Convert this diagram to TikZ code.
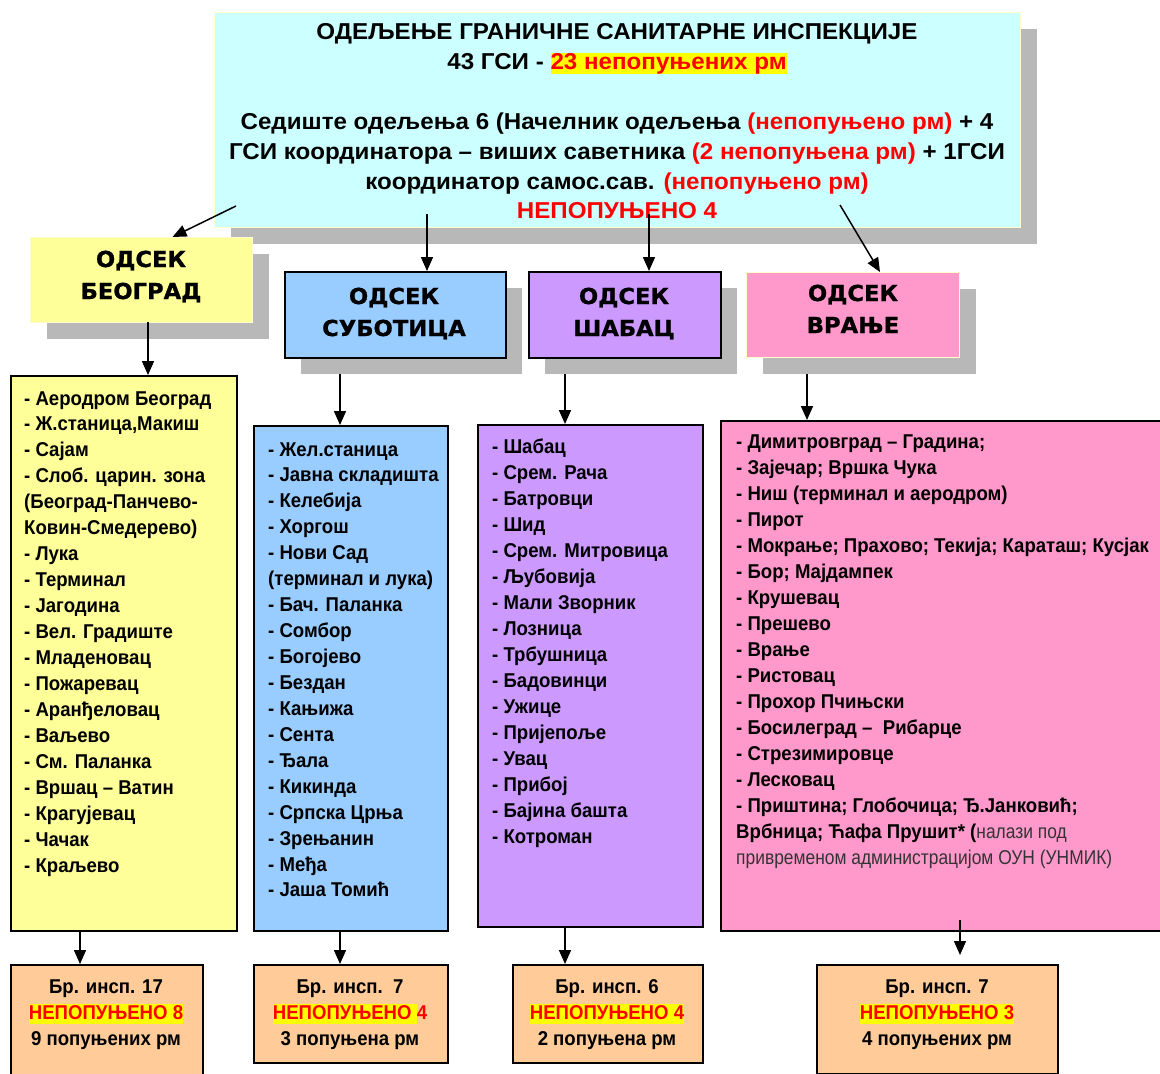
\documentclass[tikz,border=0pt]{standalone}
\usepackage{fontspec}
\setmainfont{Liberation Sans}
\newfontfamily\tf[FakeStretch=1.05]{Liberation Sans}
\newfontfamily\lf[FakeStretch=0.93]{Liberation Sans}
\newfontfamily\lnf[FakeStretch=0.87]{Liberation Sans}
\newfontfamily\hf[FakeStretch=1.03,FakeBold=1]{DejaVu Sans}
\usetikzlibrary{arrows.meta,shadows}
\definecolor{topc}{HTML}{CCFFFF}
\definecolor{yelc}{HTML}{FFFF99}
\definecolor{bluc}{HTML}{99CCFF}
\definecolor{purc}{HTML}{CC99FF}
\definecolor{pinc}{HTML}{FF99CC}
\definecolor{pchc}{HTML}{FFCC99}
\definecolor{shc}{HTML}{B8B8B8}
\definecolor{litc}{HTML}{FFFFCC}
\definecolor{hly}{HTML}{FFFF00}
\newcommand\hl[1]{{\setlength\fboxsep{0pt}\colorbox{hly}{\rule[-5pt]{0pt}{20pt}\textcolor{red}{#1}}}}
\newcommand\thin[1]{{\lnf\mdseries\color{black!80}#1}}
\begin{document}
\begin{tikzpicture}[x=1pt,y=-1pt,
  box/.style={draw=black,rectangle,inner sep=0pt,anchor=north west,line width=1.5pt},
  sh/.style={drop shadow={shadow xshift=16pt,shadow yshift=-16pt,fill=shc,opacity=1}},
  arr/.style={line width=1.5pt,-{Triangle[width=12pt,length=14pt]}},
  ttxt/.style={anchor=base,inner sep=0pt,font=\tf\fontsize{23}{23}\selectfont\bfseries},
  htxt/.style={anchor=base,inner sep=0pt,font=\hf\fontsize{22}{22}\selectfont\bfseries},
  lt/.style={anchor=base west,inner sep=0pt,font=\lf\fontsize{20}{20}\selectfont\bfseries},
  bt/.style={anchor=base,inner sep=0pt,font=\lf\fontsize{20}{20}\selectfont\bfseries}]
\fill[white] (0,0) rectangle (1160,1074);
\useasboundingbox (0,0) rectangle (1160,1074);
% top box
\node[box,sh,fill=topc,draw=litc,line width=1pt,minimum width=806pt,minimum height=215pt] (top) at (214,12) {};
\node[ttxt] (tt1) at (617,39) {ОДЕЉЕЊЕ ГРАНИЧНЕ САНИТАРНЕ ИНСПЕКЦИЈЕ};
\node[ttxt] (tt2) at (617,69) {43 ГСИ - \hl{23 непопуњених рм}};
\node[ttxt] (tt3) at (617,129) {Седиште одељења 6 (Начелник одељења \textcolor{red}{(непопуњено рм)} + 4};
\node[ttxt] (tt4) at (617,159) {ГСИ координатора – виших саветника \textcolor{red}{(2 непопуњена рм)} + 1ГСИ};
\node[ttxt] (tt5) at (617,189) {координатор самос.сав. \textcolor{red}{(непопуњено рм)}};
\node[ttxt,text=red] (tt6) at (617,218) {НЕПОПУЊЕНО 4};
% header boxes
\node[box,sh,fill=yelc,draw=litc,line width=1pt,minimum width=222pt,minimum height=85pt] (hb) at (30,237) {};
\node[box,sh,fill=bluc,minimum width=221pt,minimum height=86pt] (hs) at (284,271) {};
\node[box,sh,fill=purc,minimum width=192pt,minimum height=86pt] (hsh) at (528,271) {};
\node[box,sh,fill=pinc,draw=litc,line width=1pt,minimum width=213pt,minimum height=85pt] (hv) at (746,272) {};
\node[htxt] (hb1) at (141,267) {ОДСЕК};
\node[htxt] (hb2) at (141,299) {БЕОГРАД};
\node[htxt] (hs1) at (394,304) {ОДСЕК};
\node[htxt] (hs2) at (394,336) {СУБОТИЦА};
\node[htxt] (hsh1) at (624,304) {ОДСЕК};
\node[htxt] (hsh2) at (624,336) {ШАБАЦ};
\node[htxt] (hv1) at (853,301) {ОДСЕК};
\node[htxt] (hv2) at (853,333) {ВРАЊЕ};
% arrows from top
\coordinate (t1) at (236,206);
\coordinate (t2) at (427,214);
\coordinate (t3) at (649,214);
\coordinate (t4) at (840,205);
\draw[arr] (t1) -- ([xshift=31pt]hb.north);
\draw[arr] (t2) -- (t2 |- hs.north);
\draw[arr] (t3) -- (t3 |- hsh.north);
\draw[arr] (t4) -- ([xshift=27pt]hv.north);
% list boxes
\node[box,fill=yelc,minimum width=226pt,minimum height=555pt] (lb) at (10,375) {};
\node[box,fill=bluc,minimum width=194pt,minimum height=505pt] (ls) at (253,425) {};
\node[box,fill=purc,minimum width=225pt,minimum height=502pt] (lsh) at (477,424) {};
\node[box,fill=pinc,minimum width=441pt,minimum height=510pt] (lv) at (720,420) {};
\coordinate (s1) at (148,322);
\coordinate (s2) at (340,374);
\coordinate (s3) at (565,374);
\coordinate (s4) at (807,374);
\draw[arr] (s1) -- (s1 |- lb.north);
\draw[arr] (s2) -- (s2 |- ls.north);
\draw[arr] (s3) -- (s3 |- lsh.north);
\draw[arr] (s4) -- (s4 |- lv.north);
% list texts
\foreach \t [count=\i from 0] in {{- Аеродром Београд},{- Ж.станица,Макиш},{- Сајам},{- Слоб. царин. зона},{(Београд-Панчево-},{Ковин-Смедерево)},{- Лука},{- Терминал},{- Јагодина},{- Вел. Градиште},{- Младеновац},{- Пожаревац},{- Аранђеловац},{- Ваљево},{- См. Паланка},{- Вршац – Ватин},{- Крагујевац},{- Чачак},{- Краљево}}
  \node[lt] (lbt\i) at (24,{405+\i*25.95}) {\t};
\foreach \t [count=\i from 0] in {{- Жел.станица},{- Јавна складишта},{- Келебија},{- Хоргош},{- Нови Сад},{(терминал и лука)},{- Бач. Паланка},{- Сомбор},{- Богојево},{- Бездан},{- Кањижа},{- Сента},{- Ђала},{- Кикинда},{- Српска Црња},{- Зрењанин},{- Међа},{- Јаша Томић}}
  \node[lt] (lst\i) at (268,{456+\i*25.94}) {\t};
\foreach \t [count=\i from 0] in {{- Шабац},{- Срем. Рача},{- Батровци},{- Шид},{- Срем. Митровица},{- Љубовија},{- Мали Зворник},{- Лозница},{- Трбушница},{- Бадовинци},{- Ужице},{- Пријепоље},{- Увац},{- Прибој},{- Бајина башта},{- Котроман}}
  \node[lt] (lsht\i) at (492,{453+\i*26}) {\t};
\foreach \t [count=\i from 0] in {{- Димитровград – Градина;},{- Зајечар; Вршка Чука},{- Ниш (терминал и аеродром)},{- Пирот},{- Мокрање; Прахово; Текија; Караташ; Кусјак},{- Бор; Мајдампек},{- Крушевац},{- Прешево},{- Врање},{- Ристовац},{- Прохор Пчињски},{- Босилеград –~~Рибарце},{- Стрезимировце},{- Лесковац},{- Приштина; Глобочица; Ђ.Јанковић;},{Врбница; Ћафа Прушит* (\thin{налази под}},{\thin{привременом администрацијом ОУН (УНМИК)}}}
  \node[lt] (lvt\i) at (736,{448+\i*26}) {\t};
% bottom boxes
\node[box,fill=pchc,minimum width=192pt,minimum height=114pt] (bb1) at (10,964) {};
\node[box,fill=pchc,minimum width=194pt,minimum height=98pt] (bb2) at (253,964) {};
\node[box,fill=pchc,minimum width=190pt,minimum height=98pt] (bb3) at (512,964) {};
\node[box,fill=pchc,minimum width=241pt,minimum height=109pt] (bb4) at (816,964) {};
\coordinate (u1) at (80,930);
\coordinate (u2) at (340,930);
\coordinate (u3) at (565,926);
\coordinate (u4) at (960,920);
\coordinate (u4e) at (960,955);
\draw[arr] (u1) -- (u1 |- bb1.north);
\draw[arr] (u2) -- (u2 |- bb2.north);
\draw[arr] (u3) -- (u3 |- bb3.north);
\draw[arr] (u4) -- (u4e);
\node[bt] (b11) at (106,993) {Бр. инсп. 17};
\node[bt] (b12) at (106,1019) {\hl{НЕПОПУЊЕНО 8}};
\node[bt] (b13) at (106,1045) {9 попуњених рм};
\node[bt] (b21) at (350,993) {Бр. инсп.~~7};
\node[bt] (b22) at (350,1019) {\hl{НЕПОПУЊЕНО }\textcolor{red}{4}};
\node[bt] (b23) at (350,1045) {3 попуњена рм};
\node[bt] (b31) at (607,993) {Бр. инсп. 6};
\node[bt] (b32) at (607,1019) {\hl{НЕПОПУЊЕНО 4}};
\node[bt] (b33) at (607,1045) {2 попуњена рм};
\node[bt] (b41) at (937,993) {Бр. инсп. 7};
\node[bt] (b42) at (937,1019) {\hl{НЕПОПУЊЕНО 3}};
\node[bt] (b43) at (937,1045) {4 попуњених рм};
\end{tikzpicture}
\end{document}
